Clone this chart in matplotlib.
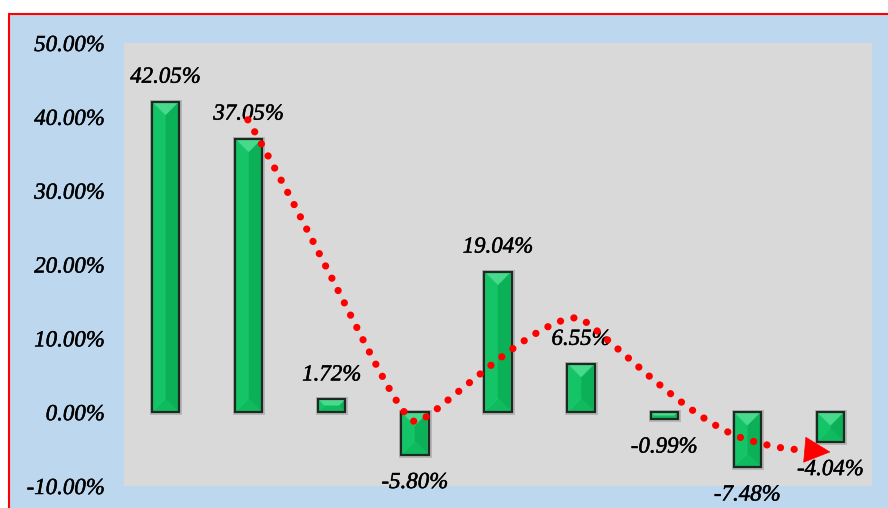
import matplotlib
matplotlib.use("Agg")
import matplotlib.pyplot as plt
from matplotlib.patches import Rectangle, Polygon, PathPatch
from matplotlib.path import Path
import matplotlib.patheffects as pe
import numpy as np

# Period-over-period growth rates (%)
values = [42.05, 37.05, 1.72, -5.80, 19.04, 6.55, -0.99, -7.48, -4.04]
y_ticks = [-10, 0, 10, 20, 30, 40, 50]
y_tick_labels = [f"{t:.2f}%" for t in y_ticks]

# Trend arrow: cubic Bezier nodes (x in category units, y in %)
trend_start = (0.99, 39.6)
trend_segments = [
    ((1.96, 20.6), (2.77, -1.2), (3.01, -1.3)),
    ((3.21, -1.3), (4.39, 12.8), (4.96, 12.8)),
    ((5.11, 12.8), (6.19, -0.4), (6.91, -3.4)),
    ((7.18, -4.4), (7.45, -5.1), (7.70, -5.1)),
]
trend_tip = (8.00, -5.4)

W, H, DPI = 888, 508, 100
plt.rcParams["font.family"] = ["Liberation Serif", "DejaVu Serif"]
plt.rcParams["font.style"] = "italic"
text_fx = [pe.withStroke(linewidth=0.35, foreground="black")]
FS = 16.5

fig = plt.figure(figsize=(W / DPI, H / DPI), dpi=DPI)
fig.patch.set_facecolor("white")

# Chart area background with red frame
fig.add_artist(Rectangle((9 / W, -0.2), 1.2, 1.2 - 14.3 / H,
                         transform=fig.transFigure, facecolor="#BDD7EE",
                         edgecolor="#FF0000", lw=1.5, zorder=0))

ax = fig.add_axes([124 / W, 22 / H, 748 / W, 443 / H])
ax.set_facecolor("#D9D9D9")
for s in ax.spines.values():
    s.set_visible(False)
ax.set_xlim(-0.5, len(values) - 0.5)
ax.set_ylim(-10, 50)
ax.set_xticks([])
ax.set_yticks(y_ticks)
ax.set_yticklabels(y_tick_labels, fontsize=FS, color="black")
for lbl in ax.get_yticklabels():
    lbl.set_path_effects(text_fx)
ax.tick_params(axis="y", length=0, pad=13.7)

bw = 0.33
to_data = ax.transData.inverted()

face_top = "#46DA8D"
face_left = "#13C567"
face_right = "#0BB157"
face_bottom = "#0EBB5E"

for i, v in enumerate(values):
    x0, x1 = i - bw / 2, i + bw / 2
    y0, y1 = min(0, v), max(0, v)
    (X0, Y0) = ax.transData.transform((x0, y0))
    (X1, Y1) = ax.transData.transform((x1, y1))
    # soft shadow
    ax.add_patch(Rectangle((x0, y0), bw, y1 - y0, facecolor="none",
                           edgecolor="#A0A0A0", lw=3.6, alpha=0.6, zorder=1.5))
    a, b, c, e = X0 + 1, Y0 + 1, X1 - 1, Y1 - 1
    d = max(min(c - a, e - b) / 2, 0)
    faces = [
        ([(a, e), (c, e), (c - d, e - d), (a + d, e - d)], face_top),
        ([(a, b), (c, b), (c - d, b + d), (a + d, b + d)], face_bottom),
        ([(a, b), (a, e), (a + d, e - d), (a + d, b + d)], face_left),
        ([(c, b), (c, e), (c - d, e - d), (c - d, b + d)], face_right),
    ]
    for pts, col in faces:
        ax.add_patch(Polygon(to_data.transform(np.array(pts)), closed=True,
                             facecolor=col, edgecolor=col, lw=0.3, zorder=2))
    ax.add_patch(Rectangle((x0, y0), bw, y1 - y0, facecolor="none",
                           edgecolor="#1C2A21", lw=1.6, zorder=2.5))
    ax.annotate(f"{v:.2f}%", (i, v),
                xytext=(0, 13.7 if v >= 0 else -23.8), textcoords="offset points",
                ha="center", va="baseline", fontsize=FS, color="black",
                path_effects=text_fx, zorder=4)

# Dotted trend curve with arrow head
verts = [trend_start]
codes = [Path.MOVETO]
for seg in trend_segments:
    verts.extend(seg)
    codes.extend([Path.CURVE4] * 3)
ax.add_patch(PathPatch(Path(verts, codes), fill=False, edgecolor="#FF0000",
                       lw=5.2, linestyle=(0, (0.01, 1.9)), capstyle="round",
                       zorder=5))
ax.annotate("", xy=trend_tip, xytext=trend_segments[-1][-1],
            arrowprops=dict(arrowstyle="-|>,head_length=0.9,head_width=0.45",
                            mutation_scale=20, color="#FF0000", lw=0.5,
                            shrinkA=0, shrinkB=0),
            zorder=6)

fig.savefig("out.png", dpi=DPI)
